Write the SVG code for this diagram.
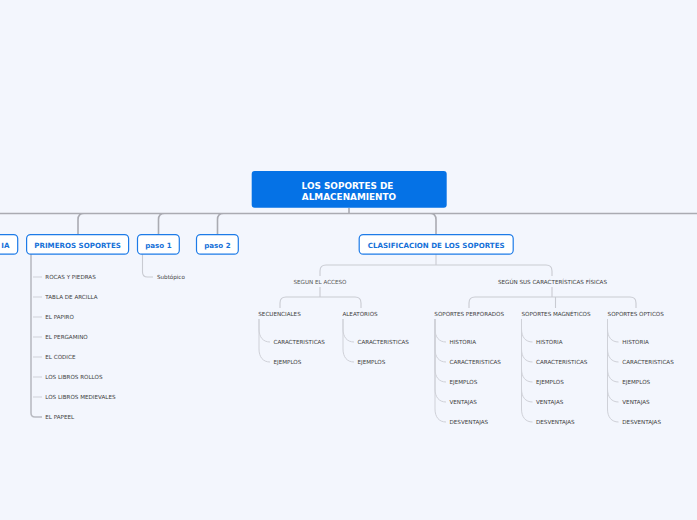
<svg xmlns="http://www.w3.org/2000/svg" width="697" height="520" viewBox="0 0 697 520">
<style>
text{font-family:"DejaVu Sans",Verdana,sans-serif}
.root{fill:#0572e6}
.rt{fill:#fff;font-weight:bold;font-size:8.9px;text-anchor:middle}
.n1{fill:#fff;stroke:#1d7be8;stroke-width:1.2}
.t1{fill:#1570d8;font-weight:bold;font-size:7.1px;text-anchor:middle}
.sub{fill:#555;font-size:5.6px;text-anchor:middle}
.hd{fill:#3c3c3c;font-size:5.6px;text-anchor:middle}
.lf{fill:#3c3c3c;font-size:5.6px}
.main{fill:none;stroke:#aaabb2;stroke-width:1.6}
.c2{fill:none;stroke:#c9cbd2;stroke-width:1.1}
.c3{fill:none;stroke:#cfd1d8;stroke-width:1}
.ps{fill:none;stroke:#b9bbc2;stroke-width:1.6}
</style>
<rect width="697" height="520" fill="#f3f6fd"/>
<g id="connectors">
<path class="main" d="M349,208V213.5M0,213.5H697M84,213.5Q78,213.5 78,219.5V235M164.5,213.5Q158.5,213.5 158.5,219.5V235M223.5,213.5Q217.5,213.5 217.5,219.5V235M430,213.5Q436,213.5 436,219.5V235"/>
<path class="ps" d="M31,254V413Q31,417 35,417H42"/>
<path class="c3" d="M33,277H42M33,297H42M33,317H42M33,337H42M33,357H42M33,377H42M33,397H42"/>
<path class="c2" d="M142.5,254V272Q142.5,277 147.5,277H153"/>
<path class="c2" d="M436,254V265M436,265H326Q320,265 320,271V276M436,265H546Q552,265 552,271V276"/>
<path class="c2" d="M320,287V297M320,297H286Q280,297 280,303V308M320,297H355Q361,297 361,303V308"/>
<path class="c2" d="M552,287V297M552,297H475Q469,297 469,303V308M552,297H630Q636,297 636,303V308M555.5,297V308"/>
<path class="c3" d="M259,319V329C259,337 263,342 270,342M259,319V349C259,357 263,362 270,362"/>
<path class="c3" d="M343,319V329C343,337 347,342 354,342M343,319V349C343,357 347,362 354,362"/>
<path class="c3" d="M435,319V329C435,337 439,342 446,342M435,319V349C435,357 439,362 446,362M435,319V369C435,377 439,382 446,382M435,319V389C435,397 439,402 446,402M435,319V409C435,417 439,422 446,422"/>
<path class="c3" d="M521.5,319V329C521.5,337 525.5,342 532.5,342M521.5,319V349C521.5,357 525.5,362 532.5,362M521.5,319V369C521.5,377 525.5,382 532.5,382M521.5,319V389C521.5,397 525.5,402 532.5,402M521.5,319V409C521.5,417 525.5,422 532.5,422"/>
<path class="c3" d="M607.5,319V329C607.5,337 611.5,342 618.5,342M607.5,319V349C607.5,357 611.5,362 618.5,362M607.5,319V369C607.5,377 611.5,382 618.5,382M607.5,319V389C607.5,397 611.5,402 618.5,402M607.5,319V409C607.5,417 611.5,422 618.5,422"/>
</g>
<g id="root">
<rect class="root" x="251.7" y="171" width="195" height="36.7" rx="3"/>
<text class="rt" x="347.5" y="188.5">LOS SOPORTES DE</text>
<text class="rt" x="349" y="199.5">ALMACENAMIENTO</text>
</g>
<g id="n-ia">
<rect class="n1" x="-60" y="234.6" width="77.7" height="19.6" rx="4"/>
<text class="t1" x="9.5" y="247.8" style="text-anchor:end">IA</text>
</g>
<g id="n-primeros">
<rect class="n1" x="26.6" y="234.6" width="102" height="19.6" rx="4"/>
<text class="t1" x="77.6" y="247.8">PRIMEROS SOPORTES</text>
</g>
<g id="n-paso1">
<rect class="n1" x="137.5" y="234.6" width="41.8" height="19.6" rx="4"/>
<text class="t1" x="158.4" y="247.8">paso 1</text>
</g>
<g id="n-paso2">
<rect class="n1" x="196.5" y="234.6" width="41.8" height="19.6" rx="4"/>
<text class="t1" x="217.4" y="247.8">paso 2</text>
</g>
<g id="n-clasif">
<rect class="n1" x="359.2" y="234.6" width="154" height="19.6" rx="4"/>
<text class="t1" x="436.2" y="247.8">CLASIFICACION DE LOS SOPORTES</text>
</g>
<g id="primeros-items">
<text class="lf" x="45.3" y="279">ROCAS Y PIEDRAS</text>
<text class="lf" x="45.3" y="299">TABLA DE ARCILLA</text>
<text class="lf" x="45.3" y="319">EL PAPIRO</text>
<text class="lf" x="45.3" y="339">EL PERGAMINO</text>
<text class="lf" x="45.3" y="359">EL CODICE</text>
<text class="lf" x="45.3" y="379">LOS LIBROS ROLLOS</text>
<text class="lf" x="45.3" y="399">LOS LIBROS MEDIEVALES</text>
<text class="lf" x="45.3" y="419">EL PAPEEL</text>
</g>
<g id="subtopico"><text class="lf" x="157" y="279">Subtópico</text></g>
<g id="segun-acceso"><text class="sub" x="320" y="284">SEGUN EL ACCESO</text></g>
<g id="segun-fisicas"><text class="hd" x="552.5" y="284">SEGÚN SUS CARACTERÍSTICAS FÍSICAS</text></g>
<g id="secuenciales">
<text class="hd" x="279.5" y="316">SECUENCIALES</text>
<text class="lf" x="273.5" y="344">CARACTERISTICAS</text>
<text class="lf" x="273.5" y="364">EJEMPLOS</text>
</g>
<g id="aleatorios">
<text class="hd" x="360" y="316">ALEATORIOS</text>
<text class="lf" x="357.5" y="344">CARACTERISTICAS</text>
<text class="lf" x="357.5" y="364">EJEMPLOS</text>
</g>
<g id="perforados">
<text class="hd" x="469.2" y="316">SOPORTES PERFORADOS</text>
<text class="lf" x="449.5" y="344">HISTORIA</text>
<text class="lf" x="449.5" y="364">CARACTERISTICAS</text>
<text class="lf" x="449.5" y="384">EJEMPLOS</text>
<text class="lf" x="449.5" y="404">VENTAJAS</text>
<text class="lf" x="449.5" y="424">DESVENTAJAS</text>
</g>
<g id="magneticos">
<text class="hd" x="556" y="316">SOPORTES MAGNÉTICOS</text>
<text class="lf" x="536" y="344">HISTORIA</text>
<text class="lf" x="536" y="364">CARACTERISTICAS</text>
<text class="lf" x="536" y="384">EJEMPLOS</text>
<text class="lf" x="536" y="404">VENTAJAS</text>
<text class="lf" x="536" y="424">DESVENTAJAS</text>
</g>
<g id="opticos">
<text class="hd" x="635.7" y="316">SOPORTES OPTICOS</text>
<text class="lf" x="622.3" y="344">HISTORIA</text>
<text class="lf" x="622.3" y="364">CARACTERISTICAS</text>
<text class="lf" x="622.3" y="384">EJEMPLOS</text>
<text class="lf" x="622.3" y="404">VENTAJAS</text>
<text class="lf" x="622.3" y="424">DESVENTAJAS</text>
</g>
</svg>
